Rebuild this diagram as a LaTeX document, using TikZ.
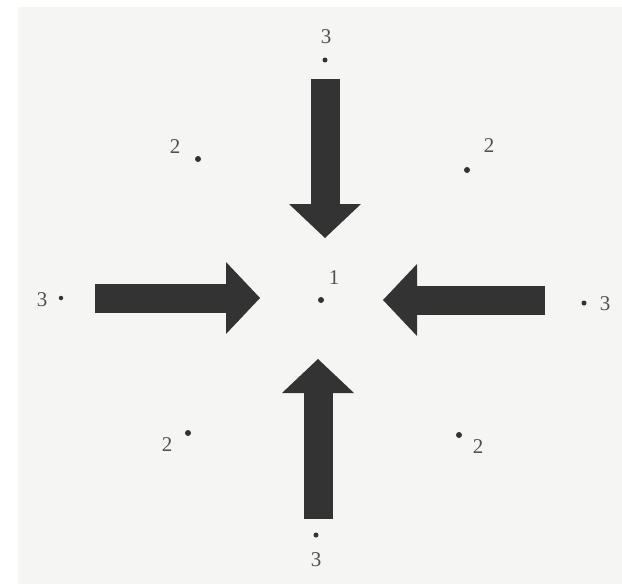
\documentclass[tikz,border=0pt]{standalone}
\usepackage{fontspec}
\setmainfont{Liberation Serif}
\usetikzlibrary{arrows.meta}
\definecolor{inkdark}{HTML}{333333}
\definecolor{inkgray}{HTML}{505050}
\definecolor{paper}{HTML}{F5F5F4}

\begin{document}
\begin{tikzpicture}[x=1pt, y=-1pt,
  ptdot/.style={circle, fill=inkdark, inner sep=0pt, minimum size=6pt},
  ptlabel/.style={text=inkgray, font=\fontsize{21}{21}\selectfont, inner sep=0pt},
  pusharrow/.style={draw=inkdark, line width=29pt,
    -{Triangle[width=72pt, length=34pt, line width=0pt]}}]
  % page and scanned sheet
  \useasboundingbox (0,0) rectangle (622,584);
  \fill[paper] (18,7) rectangle (622,584);
  % centre site
  \node[ptdot] (c) at (321,300) {};
  \node[ptlabel] (lc) at (334,278) {1};
  % sites marked 3
  \node[ptdot, minimum size=5pt] (tn) at (325,60) {};
  \node[ptlabel] (ltn) at (326,37) {3};
  \node[ptdot, minimum size=5pt] (ts) at (316,535) {};
  \node[ptlabel] (lts) at (316,560) {3};
  \node[ptdot, minimum size=4.5pt] (tw) at (61,298) {};
  \node[ptlabel] (ltw) at (42,300) {3};
  \node[ptdot, minimum size=5pt] (te) at (584,303) {};
  \node[ptlabel] (lte) at (605,304) {3};
  % sites marked 2
  \node[ptdot] (dnw) at (198,159) {};
  \node[ptlabel] (ldnw) at (175,147) {2};
  \node[ptdot] (dne) at (467,170) {};
  \node[ptlabel] (ldne) at (489,146) {2};
  \node[ptdot] (dsw) at (188,433) {};
  \node[ptlabel] (ldsw) at (167,445) {2};
  \node[ptdot] (dse) at (459,435) {};
  \node[ptlabel] (ldse) at (478,447) {2};
  % block arrows pointing at the centre
  \coordinate (an0) at (325,79);  \coordinate (an1) at (325,238);
  \coordinate (as0) at (318,519); \coordinate (as1) at (318,359);
  \coordinate (aw0) at (95,298);  \coordinate (aw1) at (260,298);
  \coordinate (ae0) at (545,300); \coordinate (ae1) at (383,300);
  \draw[pusharrow] (an0) -- (an1);
  \draw[pusharrow] (as0) -- (as1);
  \draw[pusharrow] (aw0) -- (aw1);
  \draw[pusharrow] (ae0) -- (ae1);
\end{tikzpicture}
\end{document}
